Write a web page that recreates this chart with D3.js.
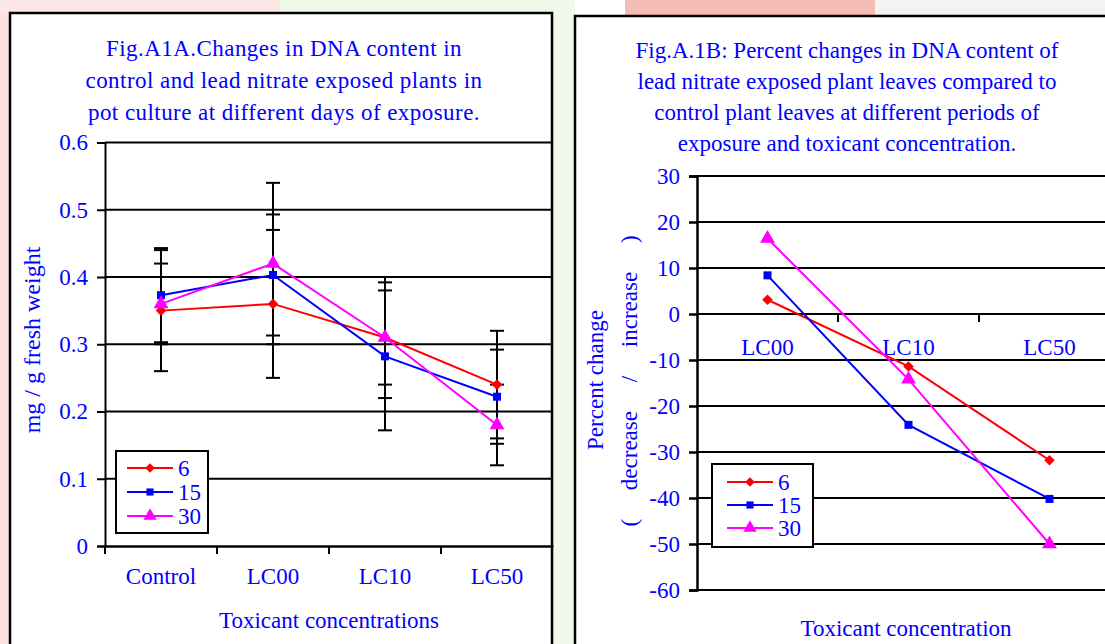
<!DOCTYPE html>
<html>
<head>
<meta charset="utf-8">
<script src="https://cdn.jsdelivr.net/npm/d3@7"></script>
<style>
  body { margin: 0; background: #fff; }
  text { font-family: "Liberation Serif", "Times New Roman", serif; fill: #0000ff; }
</style>
</head>
<body>
<div id="chart"></div>
<script>
// ---- data, panel A (mg / g fresh weight) ----
var catsA = ["Control", "LC00", "LC10", "LC50"];
var dna6 = [0.35, 0.36, 0.31, 0.24];
var dna15 = [0.373, 0.403, 0.282, 0.222];
var dna30 = [0.36, 0.42, 0.31, 0.18];
var err6 = [0.09, 0.11, 0.09, 0.08];
var err15 = [0.07, 0.09, 0.11, 0.07];
var err30 = [0.06, 0.12, 0.07, 0.06];
var yTicksA = [0, 0.1, 0.2, 0.3, 0.4, 0.5, 0.6];
var titleA = ["Fig.A1A.Changes in DNA content in",
              "control and lead nitrate exposed plants in",
              "pot culture at different days of exposure."];

// ---- data, panel B (percent change) ----
var catsB = ["LC00", "LC10", "LC50"];
var pct6 = [3.1, -11.4, -31.8];
var pct15 = [8.4, -24.1, -40.2];
var pct30 = [16.4, -14.2, -50];
var yTicksB = [30, 20, 10, 0, -10, -20, -30, -40, -50, -60];
var titleB = ["Fig.A.1B: Percent changes in DNA content of",
              "lead nitrate exposed plant leaves compared to",
              "control plant leaves at different periods of",
              "exposure and toxicant concentration."];

var seriesNames = ["6", "15", "30"];
var colors = ["#ff0000", "#0000ff", "#ff00ff"];
var symbols = [d3.symbolSquare, d3.symbolSquare, d3.symbolTriangle];
var symRot = [45, 0, 0];
var symSize = [56, 64, 95];

var width = 1105, height = 644;
var fs = 23;

var svg = d3.select("#chart").append("svg")
    .attr("width", width)
    .attr("height", height);

// faint background patches behind the figures
var bg = svg.append("g");
bg.append("rect").attr("x", 0).attr("y", 0).attr("width", 280).attr("height", 14).attr("fill", "#fce6e6");
bg.append("rect").attr("x", 280).attr("y", 0).attr("width", 295).attr("height", 14).attr("fill", "#eef8e6");
bg.append("rect").attr("x", 0).attr("y", 14).attr("width", 10).attr("height", 630).attr("fill", "#fbe2e2");
bg.append("rect").attr("x", 552).attr("y", 0).attr("width", 23).attr("height", 644).attr("fill", "#f1f9ea");
bg.append("rect").attr("x", 625).attr("y", 0).attr("width", 250).attr("height", 16).attr("fill", "#f6bcb6");
bg.append("rect").attr("x", 875).attr("y", 0).attr("width", 230).attr("height", 16).attr("fill", "#f3f3f3");

function frame(x, y, w) {
  svg.append("rect")
    .attr("x", x).attr("y", y)
    .attr("width", w).attr("height", 700)
    .attr("fill", "#fff")
    .attr("stroke", "#000")
    .attr("stroke-width", 2.5);
}
frame(10, 13, 542);
frame(575, 16, 600);

function symPath(s, scale) {
  return d3.symbol().type(symbols[s]).size(symSize[s] * scale)();
}

// ================= panel A =================
var xA = d3.scaleBand().domain(catsA).range([105, 553]);
var yA = d3.scaleLinear().domain([0, 0.6]).range([546, 142.5]);
var gA = svg.append("g");

gA.selectAll(".grid").data(yTicksA.slice(1)).enter().append("line")
  .attr("x1", 105).attr("x2", 552)
  .attr("y1", function (d) { return yA(d); })
  .attr("y2", function (d) { return yA(d); })
  .attr("stroke", "#000").attr("stroke-width", 2);

var axA = gA.append("g").attr("transform", "translate(105,0)")
  .call(d3.axisLeft(yA).tickValues(yTicksA).tickSize(8).tickPadding(9).tickFormat(d3.format("~g")));
axA.selectAll("line, path").attr("stroke", "#000").attr("stroke-width", 2);
axA.selectAll("text").attr("font-size", fs).attr("fill", "#0000ff").style("font-family", "Liberation Serif");

var bxA = gA.append("g").attr("transform", "translate(0,546)")
  .call(d3.axisBottom(xA).tickSize(0).tickPadding(0));
bxA.select("path").attr("stroke", "#000").attr("stroke-width", 2.5);
bxA.selectAll("text").attr("font-size", fs).attr("y", 38).attr("dy", 0)
  .attr("fill", "#0000ff").style("font-family", "Liberation Serif");
gA.selectAll(".xt").data(catsA).enter().append("line")
  .attr("x1", function (d) { return xA(d); }).attr("x2", function (d) { return xA(d); })
  .attr("y1", 546).attr("y2", 554)
  .attr("stroke", "#000").attr("stroke-width", 2);

var valsA = [dna6, dna15, dna30];
var errsA = [err6, err15, err30];
var cx = function (i) { return xA(catsA[i]) + xA.bandwidth() / 2; };

// error bars
valsA.forEach(function (vals, s) {
  var eb = gA.append("g");
  vals.forEach(function (v, i) {
    var e = errsA[s][i];
    eb.append("line").attr("x1", cx(i)).attr("x2", cx(i))
      .attr("y1", yA(v - e)).attr("y2", yA(v + e))
      .attr("stroke", "#000").attr("stroke-width", 2);
    [v - e, v + e].forEach(function (c) {
      eb.append("line").attr("x1", cx(i) - 7).attr("x2", cx(i) + 7)
        .attr("y1", yA(c)).attr("y2", yA(c))
        .attr("stroke", "#000").attr("stroke-width", 2);
    });
  });
});

var lineA = d3.line().x(function (d, i) { return cx(i); }).y(function (d) { return yA(d); });
valsA.forEach(function (vals, s) {
  gA.append("path").datum(vals).attr("d", lineA)
    .attr("fill", "none").attr("stroke", colors[s]).attr("stroke-width", 2);
  gA.selectAll(".m" + s).data(vals).enter().append("path")
    .attr("transform", function (d, i) { return "translate(" + cx(i) + "," + yA(d) + ") rotate(" + symRot[s] + ")"; })
    .attr("d", symPath(s, 1))
    .attr("fill", colors[s]);
});

function legend(x, y, w, h, rowY, lx1, lx2, tx) {
  var lg = svg.append("g");
  lg.append("rect").attr("x", x).attr("y", y).attr("width", w).attr("height", h)
    .attr("fill", "#fff").attr("stroke", "#000").attr("stroke-width", 2);
  seriesNames.forEach(function (n, s) {
    lg.append("line").attr("x1", lx1).attr("x2", lx2)
      .attr("y1", rowY[s]).attr("y2", rowY[s])
      .attr("stroke", colors[s]).attr("stroke-width", 2);
    lg.append("path")
      .attr("transform", "translate(" + ((lx1 + lx2) / 2) + "," + rowY[s] + ") rotate(" + symRot[s] + ")")
      .attr("d", symPath(s, 0.8))
      .attr("fill", colors[s]);
    lg.append("text").attr("x", tx).attr("y", rowY[s] + 8)
      .attr("font-size", fs).text(n);
  });
}
legend(116, 451, 92, 82, [468, 492, 516], 127, 173, 178);

gA.selectAll(".title").data(titleA).enter().append("text")
  .attr("x", 284).attr("y", function (d, i) { return 56 + i * 32; })
  .attr("text-anchor", "middle").attr("font-size", fs)
  .attr("letter-spacing", 0.45).text(function (d) { return d; });

gA.append("text").attr("transform", "translate(40,340) rotate(-90)")
  .attr("text-anchor", "middle").attr("font-size", 24).text("mg / g fresh weight");
gA.append("text").attr("x", 329).attr("y", 628)
  .attr("text-anchor", "middle").attr("font-size", fs).text("Toxicant concentrations");

// ================= panel B =================
var xB = d3.scaleBand().domain(catsB).range([697, 1120]);
var yB = d3.scaleLinear().domain([-60, 30]).range([590, 176]);
var gB = svg.append("g");

gB.selectAll(".grid").data(yTicksB).enter().append("line")
  .attr("x1", 697).attr("x2", 1105)
  .attr("y1", function (d) { return yB(d); })
  .attr("y2", function (d) { return yB(d); })
  .attr("stroke", "#000").attr("stroke-width", 2);

var axB = gB.append("g").attr("transform", "translate(697,0)")
  .call(d3.axisLeft(yB).tickValues(yTicksB).tickSize(8).tickPadding(9)
    .tickFormat(function (d) { return String(d); }));
axB.selectAll("line, path").attr("stroke", "#000").attr("stroke-width", 2.5);
axB.selectAll("text").attr("font-size", fs).attr("fill", "#0000ff").style("font-family", "Liberation Serif");

var bxB = gB.append("g").attr("transform", "translate(0," + yB(0) + ")")
  .call(d3.axisBottom(xB).tickSize(0).tickPadding(0));
bxB.select("path").remove();
bxB.selectAll("text").attr("font-size", fs).attr("y", 41).attr("dy", 0)
  .attr("fill", "#0000ff").style("font-family", "Liberation Serif");
gB.selectAll(".xt").data(catsB.slice(1)).enter().append("line")
  .attr("x1", function (d) { return xB(d); }).attr("x2", function (d) { return xB(d); })
  .attr("y1", yB(0)).attr("y2", yB(0) + 8)
  .attr("stroke", "#000").attr("stroke-width", 2);

var valsB = [pct6, pct15, pct30];
var cxB = function (i) { return xB(catsB[i]) + xB.bandwidth() / 2; };
var lineB = d3.line().x(function (d, i) { return cxB(i); }).y(function (d) { return yB(d); });
valsB.forEach(function (vals, s) {
  gB.append("path").datum(vals).attr("d", lineB)
    .attr("fill", "none").attr("stroke", colors[s]).attr("stroke-width", 2);
  gB.selectAll(".m" + s).data(vals).enter().append("path")
    .attr("transform", function (d, i) { return "translate(" + cxB(i) + "," + yB(d) + ") rotate(" + symRot[s] + ")"; })
    .attr("d", symPath(s, 1))
    .attr("fill", colors[s]);
});

legend(712, 464, 101, 83, [482, 505, 528], 727, 773, 778);

gB.selectAll(".title").data(titleB).enter().append("text")
  .attr("x", 847).attr("y", function (d, i) { return 58 + i * 31; })
  .attr("text-anchor", "middle").attr("font-size", fs).text(function (d) { return d; });

gB.append("text").attr("transform", "translate(603,380) rotate(-90)")
  .attr("text-anchor", "middle").attr("font-size", fs).text("Percent change");
gB.append("text").attr("transform", "translate(637,381) rotate(-90)")
  .attr("text-anchor", "middle").attr("font-size", fs)
  .text("(\u00a0\u00a0\u00a0\u00a0\u00a0decrease\u00a0\u00a0\u00a0\u00a0\u00a0/\u00a0\u00a0\u00a0\u00a0\u00a0increase\u00a0\u00a0\u00a0\u00a0\u00a0)");
gB.append("text").attr("x", 906).attr("y", 636)
  .attr("text-anchor", "middle").attr("font-size", fs).text("Toxicant concentration");
</script>
</body>
</html>
